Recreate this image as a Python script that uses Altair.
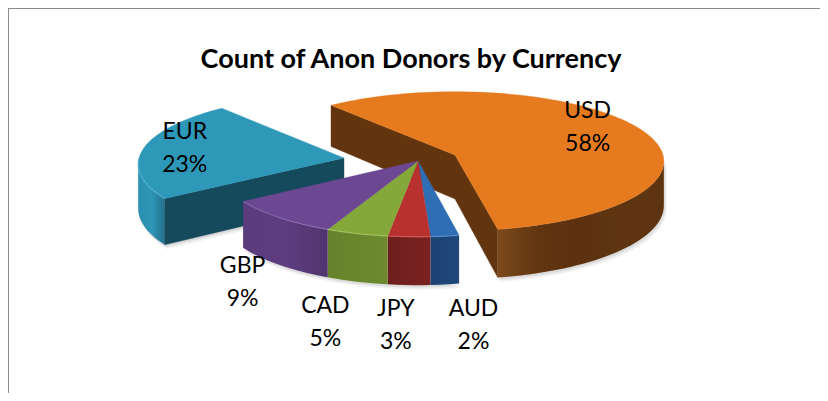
import math
import altair as alt
import pandas as pd

# Data
currencies = ["USD", "AUD", "JPY", "CAD", "GBP", "EUR"]
shares = [58.0, 2.1, 3.1, 4.6, 8.8, 23.4]
title_text = "Count of Anon Donors by Currency"

# Style / layout
START_ANGLE = -39.6
RY, PERSP, DEPTH = 69, 0.09, 44
APEX = {"USD": (455, 155), "EUR": (344, 158)}
GROUP_APEX = (418, 161)
RX = {"USD": 208, "EUR": 205, "GROUP": 200}
TOP = {"USD": "#E57A1E", "AUD": "#2F6DB5", "JPY": "#B8312F", "CAD": "#84A83A", "GBP": "#6C4792", "EUR": "#2E98B8"}
RIM = {"AUD": "#5f93cf", "JPY": "#d0605c", "CAD": "#a9c866", "GBP": "#9274b5", "EUR": "#5cb4cf"}
WALL = {
    "USD": ["#7b4a1c", "#613510", "#5b310f", "#5f3611", "#5e3410"],
    "AUD": ["#1f4878", "#1c4272"],
    "JPY": ["#7a2221", "#6e1e1e"],
    "CAD": ["#6d8a2e", "#66832c"],
    "GBP": ["#50346e", "#5d3d80", "#5a3b7c"],
    "EUR": ["#2a8fb0", "#2f97b7", "#236f8c"],
}
CUT = {"USD": "#63350f", "EUR": "#15495c"}
NUDGE = {"USD": (-46, -16), "EUR": (41, -16), "GBP": (-33, 49), "CAD": (-30, 72), "JPY": (-13, 72), "AUD": (28, 73)}
EDGE_ANGLE = math.degrees(math.acos(-PERSP))  # widest point of the projected ellipse


def project(apex, angle, rx, drop=False):
    a = math.radians(angle)
    X, Y = math.sin(a), math.cos(a)
    w = 1 + PERSP * Y
    x = apex[0] + rx * X / w
    y = apex[1] - RY * Y / w
    if drop:
        y += DEPTH / w
    return [x, y]


def arc(apex, a0, a1, rx, drop=False):
    n = max(2, int(abs(a1 - a0) / 2))
    return [project(apex, a0 + (a1 - a0) * i / n, rx, drop) for i in range(n + 1)]


def geo(feature_geometry):
    feature = {"type": "Feature", "properties": {}, "geometry": feature_geometry}
    return alt.Chart(alt.Data(values=[feature]))


def face(points, fill, opacity=None):
    ring = points + [points[0]]
    kw = {}
    if isinstance(fill, list):
        stops = [alt.GradientStop(color=c, offset=i / (len(fill) - 1)) for i, c in enumerate(fill)]
        kw["fill"] = alt.Gradient(gradient="linear", stops=stops, x1=0, x2=1, y1=0, y2=0)
        kw["strokeWidth"] = 0
    else:
        kw["fill"] = fill
        kw["stroke"] = fill
        kw["strokeWidth"] = 0.4
    if opacity is not None:
        kw["opacity"] = opacity
    return geo({"type": "Polygon", "coordinates": [ring]}).mark_geoshape(**kw).project(
        type="identity", scale=1, translate=[-8, -8])


def rim(points, color):
    return geo({"type": "LineString", "coordinates": points}).mark_geoshape(
        filled=False, stroke=color, strokeWidth=1.2, opacity=0.7).project(
        type="identity", scale=1, translate=[-8, -8])


# Slice angles from the shares
angles = {}
cur = START_ANGLE
for name, share in zip(currencies, shares):
    angles[name] = (cur, cur + share * 3.6)
    cur += share * 3.6

layers = []


def shadow(points):
    for off, op in ((4, 0.10), (2, 0.16)):
        layers.append(face([[x + off * 0.6, y + off] for x, y in points], "#777777", op))


# USD slice
a0, a1 = angles["USD"]
ap = APEX["USD"]
rx = RX["USD"]
ap_d = [ap[0], ap[1] + DEPTH]
shadow(arc(ap, EDGE_ANGLE, a1, rx, True) + [project(ap, a1, rx), project(ap, EDGE_ANGLE, rx)])
layers.append(face([list(ap), project(ap, a0, rx), project(ap, a0, rx, True), ap_d], CUT["USD"]))
layers.append(face([list(ap), project(ap, a1, rx), project(ap, a1, rx, True), ap_d], CUT["USD"]))
layers.append(face(arc(ap, EDGE_ANGLE, a1, rx) + arc(ap, a1, EDGE_ANGLE, rx, True), WALL["USD"]))
layers.append(face([list(ap)] + arc(ap, a0, a1, rx), TOP["USD"]))

# EUR slice
a0, a1 = angles["EUR"]
ap = APEX["EUR"]
rx = RX["EUR"]
ap_d = [ap[0], ap[1] + DEPTH]
shadow(arc(ap, a0, 360 - EDGE_ANGLE, rx, True) + [ap_d])
layers.append(face(arc(ap, a0, 360 - EDGE_ANGLE, rx) + arc(ap, 360 - EDGE_ANGLE, a0, rx, True), WALL["EUR"]))
layers.append(face([list(ap), project(ap, a0, rx), project(ap, a0, rx, True), ap_d], CUT["EUR"]))
layers.append(face([list(ap)] + arc(ap, a0, a1, rx), TOP["EUR"]))
layers.append(rim(arc(ap, a0, 360 - EDGE_ANGLE, rx), RIM["EUR"]))

# Front group
group = ["AUD", "JPY", "CAD", "GBP"]
rx = RX["GROUP"]
shadow(arc(GROUP_APEX, angles["AUD"][0], angles["GBP"][1], rx, True))
for name in group:
    a0, a1 = angles[name]
    layers.append(face(arc(GROUP_APEX, a0, a1, rx) + arc(GROUP_APEX, a1, a0, rx, True), WALL[name][::-1]))
for name in group:
    a0, a1 = angles[name]
    layers.append(face([list(GROUP_APEX)] + arc(GROUP_APEX, a0, a1, rx), TOP[name]))
for name in group:
    a0, a1 = angles[name]
    layers.append(rim(arc(GROUP_APEX, a0, a1, rx), RIM[name]))

# Labels
rows = []
for name, share in zip(currencies, shares):
    a0, a1 = angles[name]
    apex = APEX.get(name, GROUP_APEX)
    x, y = project(apex, (a0 + a1) / 2, 205)
    dx, dy = NUDGE[name]
    rows.append({"lon": x + dx, "lat": y + dy, "label": f"{name}\n{round(share)}%"})
labels = (
    alt.Chart(pd.DataFrame(rows))
    .mark_text(font="Lato", fontSize=23, color="#000000", lineBreak="\n", lineHeight=33, align="center", baseline="middle")
    .encode(longitude="lon:Q", latitude="lat:Q", text="label:N")
    .project(type="identity", scale=1, translate=[-8, -8])
)

title_df = pd.DataFrame({"lon": [411], "lat": [60], "label": [title_text]})
title = (
    alt.Chart(title_df)
    .mark_text(font="Lato", fontSize=27, fontWeight="bold", color="#000000", align="center", baseline="middle")
    .encode(longitude="lon:Q", latitude="lat:Q", text="label:N")
    .project(type="identity", scale=1, translate=[-8, -8])
)

frame_left = alt.Chart(pd.DataFrame({"a": [0]})).mark_rule(color="#8c8c8c", strokeWidth=2).encode(
    x=alt.value(0), y=alt.value(0), y2=alt.value(385))
frame_top = alt.Chart(pd.DataFrame({"a": [0]})).mark_rule(color="#8c8c8c", strokeWidth=2).encode(
    y=alt.value(0), x=alt.value(0), x2=alt.value(812))

chart = alt.layer(*layers, labels, title, frame_left, frame_top).properties(
    width=812, height=385, padding=0, background="#ffffff",
    autosize=alt.AutoSizeParams(type="none"),
).configure_view(stroke=None)

chart.save("out.html", embed_options={"renderer": "svg", "actions": False})
